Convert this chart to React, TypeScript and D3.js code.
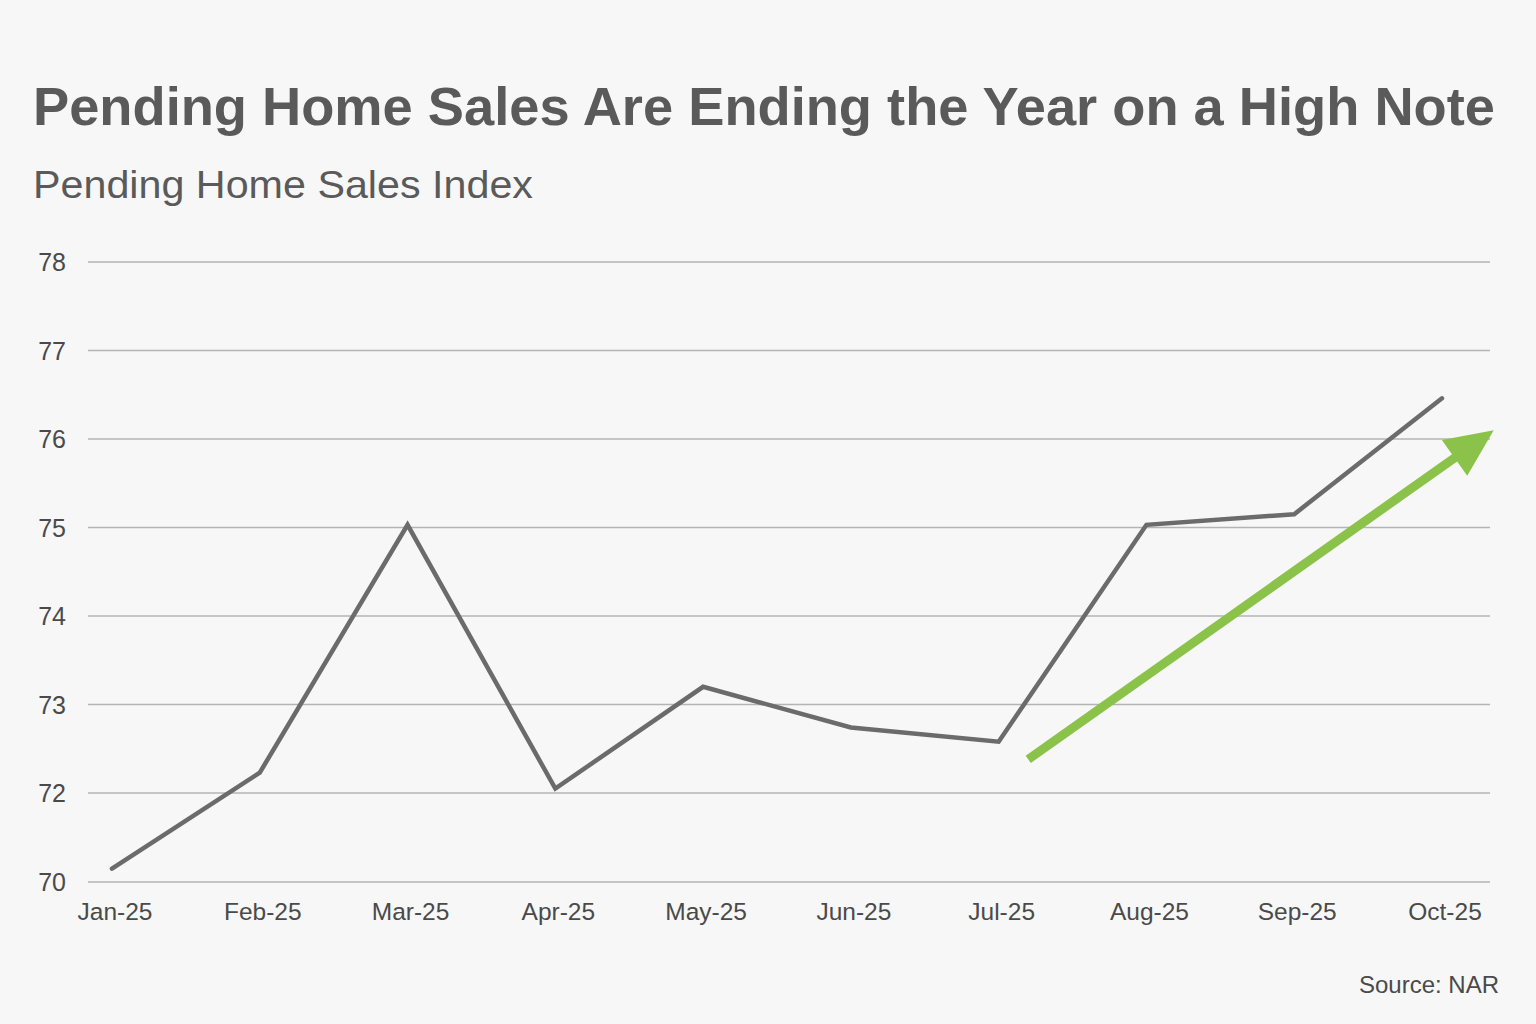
import { useRef, useEffect } from 'react';
import * as d3 from 'd3';

const months = ['Jan-25', 'Feb-25', 'Mar-25', 'Apr-25', 'May-25', 'Jun-25', 'Jul-25', 'Aug-25', 'Sep-25', 'Oct-25'];
const indexValues = [70.3, 72.23, 75.03, 72.05, 73.2, 72.74, 72.58, 75.03, 75.15, 76.46];
const yTicks = [70, 72, 73, 74, 75, 76, 77, 78];
// trend arrow, in month-index / index-value units
const arrowFrom = { i: 6.2, v: 72.38 };
const arrowTo = { i: 9.35, v: 76.1 };

const W = 1536;
const H = 1024;
const FONT = '"Liberation Sans", Arial, Helvetica, sans-serif';

export default function App() {
    const svgRef = useRef<SVGSVGElement>(null);

    useEffect(() => {
        document.body.style.margin = '0';
        if (!svgRef.current) return;

        const svg = d3.select(svgRef.current);
        svg.selectAll('*').remove();
        svg.attr('width', W).attr('height', H);

        svg.append('rect').attr('width', W).attr('height', H).attr('fill', '#f7f7f7');

        const gridLeft = 88;
        const gridRight = 1490;

        const x = d3.scaleLinear().domain([0, months.length - 1]).range([112, 1442]);
        // axis skips 71: the gap 70-72 is drawn the same height as one unit
        const y = d3.scaleLinear().domain([70, 72, 78]).range([882, 793, 262]);

        // Title
        svg.append('text')
            .attr('x', 33)
            .attr('y', 125)
            .attr('font-family', FONT)
            .attr('font-size', '54px')
            .attr('font-weight', '700')
            .attr('fill', '#5a5a5a')
            .attr('textLength', 1462)
            .attr('lengthAdjust', 'spacingAndGlyphs')
            .text('Pending Home Sales Are Ending the Year on a High Note');

        svg.append('text')
            .attr('x', 33)
            .attr('y', 198)
            .attr('font-family', FONT)
            .attr('font-size', '39px')
            .attr('fill', '#5a5a5a')
            .attr('textLength', 500)
            .attr('lengthAdjust', 'spacingAndGlyphs')
            .text('Pending Home Sales Index');

        // Grid + y labels
        const grid = svg.append('g');
        grid.selectAll('line')
            .data(yTicks)
            .enter()
            .append('line')
            .attr('x1', gridLeft)
            .attr('x2', gridRight)
            .attr('y1', d => y(d))
            .attr('y2', d => y(d))
            .attr('stroke', '#b4b4b4')
            .attr('stroke-width', 1.5);

        grid.selectAll('text')
            .data(yTicks)
            .enter()
            .append('text')
            .attr('x', 66)
            .attr('y', d => y(d) + 9)
            .attr('text-anchor', 'end')
            .attr('font-family', FONT)
            .attr('font-size', '25px')
            .attr('fill', '#4a4a4a')
            .text(d => d);

        // x labels
        svg.append('g')
            .selectAll('text')
            .data(months)
            .enter()
            .append('text')
            .attr('x', (_, i) => x(i) + 3)
            .attr('y', 920)
            .attr('text-anchor', 'middle')
            .attr('font-family', FONT)
            .attr('font-size', '24.5px')
            .attr('fill', '#4a4a4a')
            .text(d => d);

        // Series line
        const line = d3.line<number>()
            .x((_, i) => x(i))
            .y(d => y(d));

        svg.append('path')
            .datum(indexValues)
            .attr('d', line)
            .attr('fill', 'none')
            .attr('stroke', '#6b6b6b')
            .attr('stroke-width', 4.5)
            .attr('stroke-linejoin', 'miter')
            .attr('stroke-linecap', 'round');

        // Trend arrow
        const x0 = x(arrowFrom.i), y0 = y(arrowFrom.v);
        const x1 = x(arrowTo.i), y1 = y(arrowTo.v);
        const ang = Math.atan2(y1 - y0, x1 - x0);
        const headLen = 48;
        const headHalf = 22;
        const bx = x1 - headLen * Math.cos(ang);
        const by = y1 - headLen * Math.sin(ang);
        const green = '#8bc34a';

        svg.append('line')
            .attr('x1', x0)
            .attr('y1', y0)
            .attr('x2', bx + 4 * Math.cos(ang))
            .attr('y2', by + 4 * Math.sin(ang))
            .attr('stroke', green)
            .attr('stroke-width', 9);

        const px = -Math.sin(ang), py = Math.cos(ang);
        svg.append('path')
            .attr('d', `M${x1},${y1}L${bx + headHalf * px},${by + headHalf * py}L${bx - headHalf * px},${by - headHalf * py}Z`)
            .attr('fill', green);

        // Source
        svg.append('text')
            .attr('x', 1499)
            .attr('y', 993)
            .attr('text-anchor', 'end')
            .attr('font-family', FONT)
            .attr('font-size', '24px')
            .attr('fill', '#4a4a4a')
            .text('Source: NAR');
    }, []);

    return <svg ref={svgRef} style={{ display: 'block' }} />;
}
